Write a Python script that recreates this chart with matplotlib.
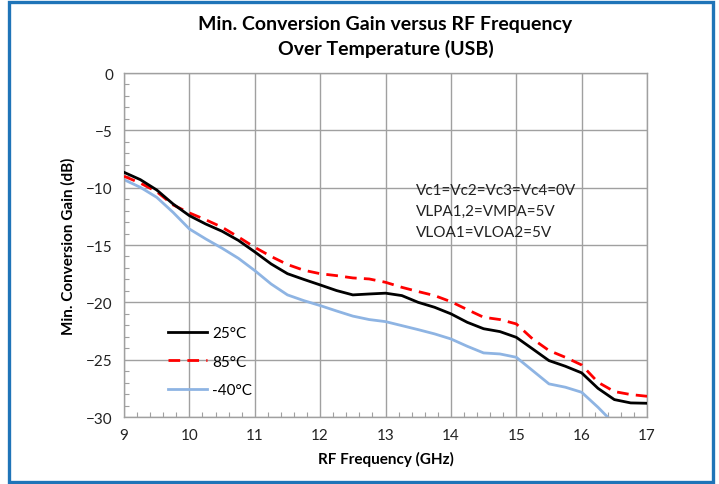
import matplotlib
matplotlib.use("Agg")
import matplotlib.pyplot as plt
from matplotlib.patches import Rectangle
from matplotlib.ticker import MultipleLocator

plt.rcParams['font.family'] = ['Lato', 'DejaVu Sans']

freq = [9.0, 9.25, 9.5, 9.75, 10.0, 10.25, 10.5, 10.75, 11.0, 11.25, 11.5,
        11.75, 12.0, 12.25, 12.5, 12.75, 13.0, 13.25, 13.5, 13.75, 14.0,
        14.25, 14.5, 14.75, 15.0, 15.25, 15.5, 15.75, 16.0, 16.25, 16.5,
        16.75, 17.0]

gain_25c = [-8.66, -9.3, -10.2, -11.42, -12.44, -13.17, -13.8, -14.6,
            -15.6, -16.65, -17.5, -18.0, -18.48, -18.97, -19.35, -19.27,
            -19.2, -19.41, -20.0, -20.43, -21.0, -21.74, -22.3, -22.55,
            -23.05, -24.06, -25.08, -25.57, -26.15, -27.5, -28.48, -28.77,
            -28.8]

gain_85c = [-9.0, -9.6, -10.35, -11.5, -12.2, -12.8, -13.45, -14.3, -15.2,
            -16.0, -16.7, -17.2, -17.5, -17.67, -17.87, -17.96, -18.25,
            -18.69, -19.06, -19.41, -19.94, -20.63, -21.3, -21.5, -21.88,
            -23.19, -24.2, -24.79, -25.46, -26.97, -27.78, -28.04, -28.19]

freq_m40 = freq[:31]
gain_m40c = [-9.3, -9.97, -10.84, -12.15, -13.6, -14.47, -15.28, -16.16,
             -17.23, -18.4, -19.35, -19.85, -20.28, -20.75, -21.2, -21.5,
             -21.68, -22.03, -22.38, -22.75, -23.19, -23.83, -24.41, -24.5,
             -24.79, -25.95, -27.11, -27.4, -27.84, -29.15, -30.6]

x_ticks = [9, 10, 11, 12, 13, 14, 15, 16, 17]
y_ticks = [0, -5, -10, -15, -20, -25, -30]
bias_note = "Vc1=Vc2=Vc3=Vc4=0V\nVLPA1,2=VMPA=5V\nVLOA1=VLOA2=5V"

fig = plt.figure(figsize=(7.19, 4.85), dpi=100)
ax = fig.add_axes([0.1725, 0.1381, 0.7274, 0.7093])

grid_c = '#A0A0A0'
ax.plot(freq, gain_25c, color='black', lw=2.0, label='25°C', zorder=4)
ax.plot(freq, gain_85c, color='#FF0000', lw=2.0, dashes=(4.2, 2.6),
        label='85°C', zorder=3)
ax.plot(freq_m40, gain_m40c, color='#8EB4E3', lw=2.0, label='-40°C', zorder=2)

ax.set_xlim(9, 17)
ax.set_ylim(-30, 0)
ax.set_xticks(x_ticks)
ax.set_yticks(y_ticks)
ax.xaxis.set_minor_locator(MultipleLocator(0.2))
ax.yaxis.set_minor_locator(MultipleLocator(1))
ax.grid(True, which='major', color=grid_c, lw=1.0)
ax.tick_params(which='major', length=0, labelsize=11, colors='#222222', pad=8)
ax.tick_params(which='minor', direction='in', length=3.5, color=grid_c, width=0.8)
for s in ax.spines.values():
    s.set_color(grid_c)
    s.set_linewidth(1.0)

ax.set_xlabel('RF Frequency (GHz)', fontsize=11, fontweight='bold', labelpad=6)
ax.set_ylabel('Min. Conversion Gain (dB)', fontsize=11, fontweight='bold', labelpad=8)
ax.set_title('Min. Conversion Gain versus RF Frequency\nOver Temperature (USB)',
             fontsize=14, fontweight='bold', pad=14, linespacing=1.45)

ax.text(0.558, 0.68, bias_note, transform=ax.transAxes, fontsize=11,
        va='top', ha='left', linespacing=1.65, color='#222222')

leg = ax.legend(loc='lower left', bbox_to_anchor=(0.057, 0.018), frameon=False,
                fontsize=11, handlelength=2.6, handletextpad=0.3,
                labelspacing=0.95)

fig.patches.append(Rectangle((9 / 719, 2 / 485), 704 / 719, 480 / 485,
                             transform=fig.transFigure, fill=False,
                             edgecolor='#1F74B8', lw=2.4))

fig.savefig('out.png', dpi=100)
